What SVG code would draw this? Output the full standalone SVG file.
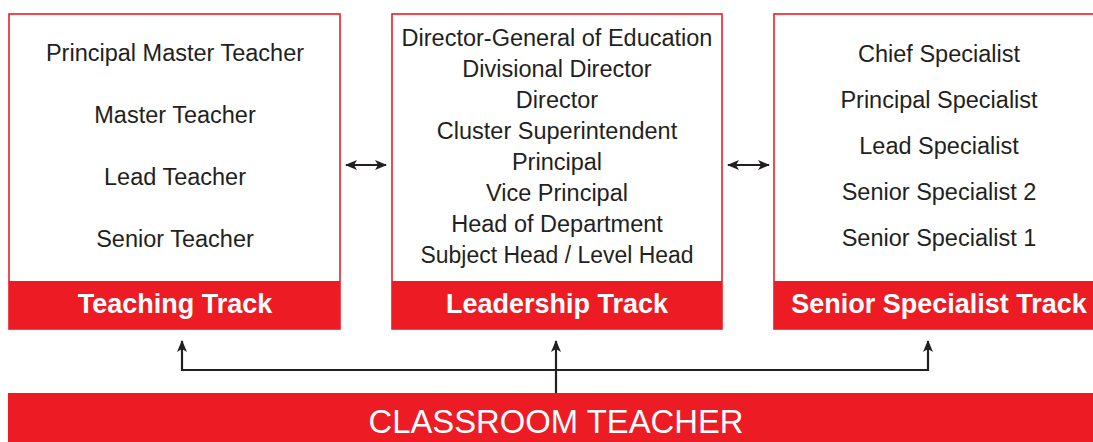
<svg xmlns="http://www.w3.org/2000/svg" width="1093" height="442" viewBox="0 0 1093 442">
<style>
.box{fill:#fff;stroke:#ed1c24;stroke-width:1.6}
.band{fill:#ed1c24}
.t{font-family:"Liberation Sans",Arial,sans-serif;font-size:23.5px;fill:#231f20;text-anchor:middle}
.h{font-family:"Liberation Sans",Arial,sans-serif;font-size:27px;font-weight:bold;fill:#fff;text-anchor:middle}
.c{font-family:"Liberation Sans",Arial,sans-serif;font-size:34px;fill:#fff;text-anchor:middle}
.ln{fill:none;stroke:#231f20;stroke-width:2.2}
</style>
<defs>
<marker id="ah" viewBox="0 0 12 10" refX="11" refY="5" markerWidth="12" markerHeight="10" markerUnits="userSpaceOnUse" orient="auto-start-reverse">
<path d="M0,0 L12,5 L0,10 L3,5 Z" fill="#231f20"/>
</marker>
</defs>
<rect width="1093" height="442" fill="#fff"/>
<g id="teaching-track">
<rect class="box" x="9" y="14" width="331" height="315"/>
<rect class="band" x="9" y="281" width="331" height="48"/>
<text class="t" x="175" y="61">Principal Master Teacher</text>
<text class="t" x="175" y="123">Master Teacher</text>
<text class="t" x="175" y="185">Lead Teacher</text>
<text class="t" x="175" y="247">Senior Teacher</text>
<text class="h" x="175" y="313">Teaching Track</text>
</g>
<g id="leadership-track">
<rect class="box" x="392" y="14" width="330" height="315"/>
<rect class="band" x="392" y="281" width="330" height="48"/>
<text class="t" x="557" y="46">Director-General of Education</text>
<text class="t" x="557" y="77">Divisional Director</text>
<text class="t" x="557" y="108">Director</text>
<text class="t" x="557" y="139">Cluster Superintendent</text>
<text class="t" x="557" y="170">Principal</text>
<text class="t" x="557" y="201">Vice Principal</text>
<text class="t" x="557" y="232">Head of Department</text>
<text class="t" x="557" y="263" textLength="273" lengthAdjust="spacingAndGlyphs">Subject Head / Level Head</text>
<text class="h" x="557" y="313">Leadership Track</text>
</g>
<g id="senior-specialist-track">
<rect class="box" x="774" y="14" width="330" height="315"/>
<rect class="band" x="774" y="281" width="330" height="48"/>
<text class="t" x="939" y="62">Chief Specialist</text>
<text class="t" x="939" y="108">Principal Specialist</text>
<text class="t" x="939" y="154">Lead Specialist</text>
<text class="t" x="939" y="200">Senior Specialist 2</text>
<text class="t" x="939" y="246">Senior Specialist 1</text>
<text class="h" x="939" y="313">Senior Specialist Track</text>
</g>
<g id="classroom-teacher">
<rect class="band" x="8" y="393" width="1090" height="55"/>
<text class="c" x="556" y="433" textLength="375" lengthAdjust="spacingAndGlyphs">CLASSROOM TEACHER</text>
</g>
<g id="connectors">
<line class="ln" x1="346" y1="165" x2="386" y2="165" marker-start="url(#ah)" marker-end="url(#ah)"/>
<line class="ln" x1="728" y1="165" x2="769" y2="165" marker-start="url(#ah)" marker-end="url(#ah)"/>
<polyline class="ln" points="182,341 182,370 928,370 928,341" marker-start="url(#ah)" marker-end="url(#ah)"/>
<line class="ln" x1="556" y1="393" x2="556" y2="341" marker-end="url(#ah)"/>
</g>
</svg>
